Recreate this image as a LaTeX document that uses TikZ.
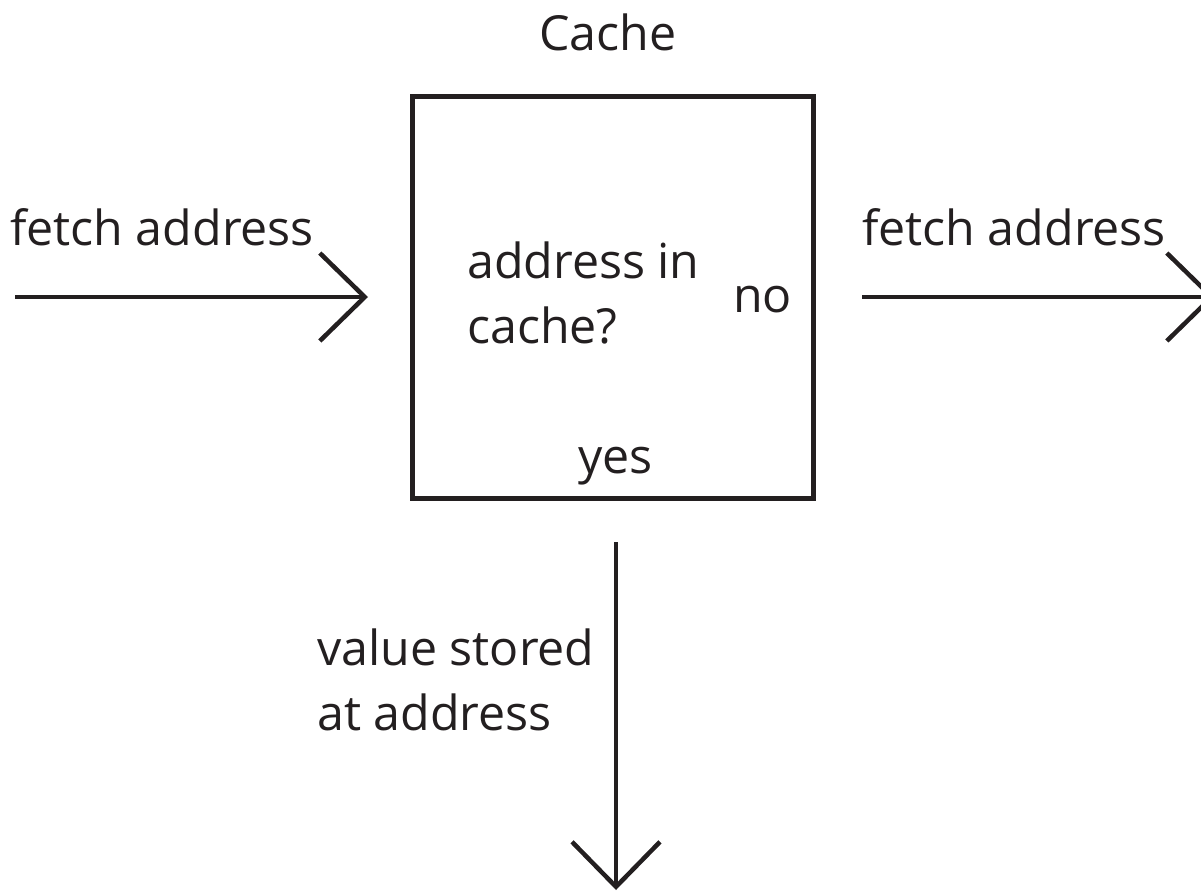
\documentclass[tikz,border=0pt]{standalone}
\usepackage{fontspec}
\setmainfont{Open Sans}
\usetikzlibrary{arrows.meta}
\definecolor{ink}{HTML}{231F20}
\tikzset{
  lbl/.style={anchor=base west, inner sep=0pt, text=ink, font=\fontsize{48.5}{48.5}\selectfont},
  cachebox/.style={draw=ink, line width=5bp, minimum width=401bp, minimum height=402bp, inner sep=0pt},
  flow/.style={draw=ink, line width=4.5bp, -{Straight Barb[length=45bp,width=88bp,line width=4.5bp]}}
}
\begin{document}
\begin{tikzpicture}[x=1bp,y=-1bp]
\useasboundingbox (0,0) rectangle (1201,893);
\clip (0,0) rectangle (1201,893);
\node[lbl] (title) at (539,50) {Cache};
\node[cachebox] (box) at (613.25,297.25) {};
\node[lbl] (q1) at (467,278) {address in};
\node[lbl] (q2) at (467,343) {cache?};
\node[lbl] (no) at (733,312) {no};
\node[lbl] (yes) at (578,473) {yes};
\node[lbl] (inl) at (10,245) {fetch address};
\node[lbl] (outl) at (862,245) {fetch address};
\node[lbl] (v1) at (317,665) {value stored};
\node[lbl] (v2) at (317,730) {at address};
\coordinate (inS) at (15,297);
\coordinate (inE) at (368,297);
\coordinate (outS) at (862,297);
\coordinate (outE) at (1215,297);
\coordinate (dnS) at (616,542);
\coordinate (dnE) at (616,890);
\draw[flow] (inS) -- (inE);
\draw[flow] (outS) -- (outE);
\draw[flow] (dnS) -- (dnE);
\end{tikzpicture}
\end{document}
